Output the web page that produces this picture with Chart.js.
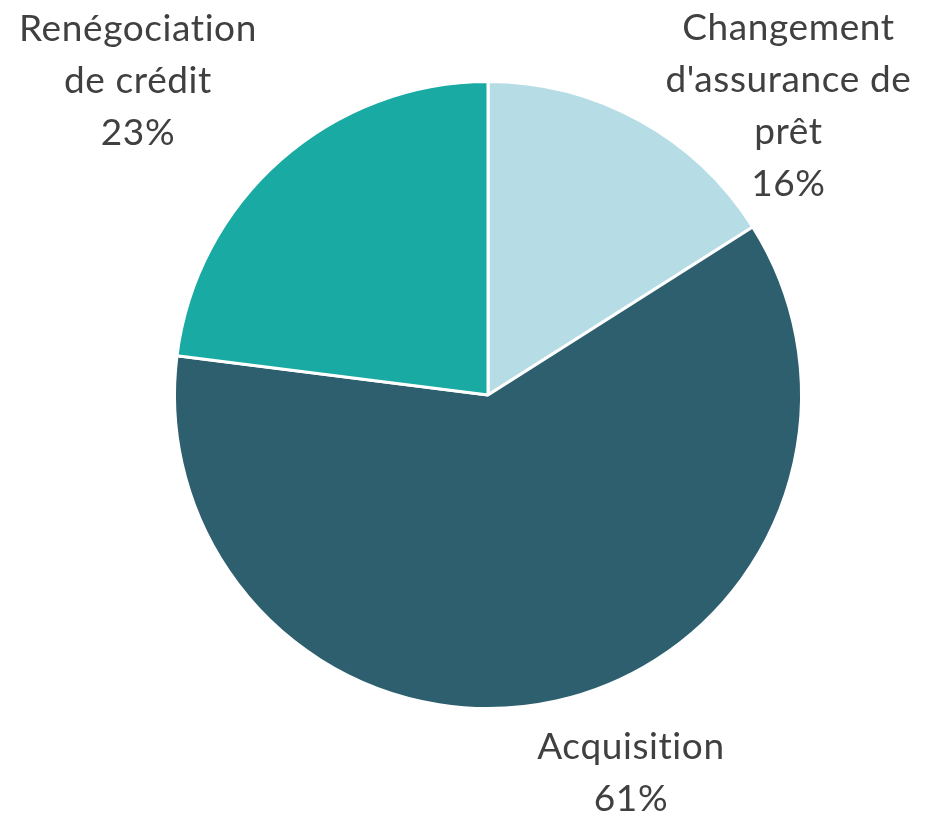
<!DOCTYPE html>
<html>
<head>
<meta charset="utf-8">
<script src="https://cdn.jsdelivr.net/npm/chart.js@4.4.0/dist/chart.umd.min.js"></script>
<style>
    html, body { margin: 0; padding: 0; background: #ffffff; }
    #wrap { width: 925px; height: 814px; position: relative; }
</style>
</head>
<body>
<div id="wrap"><canvas id="pie-chart"></canvas></div>
<script>
// Data
const categories = ['Changement d\'assurance de prêt', 'Acquisition', 'Renégociation de crédit'];
const labelLines = [
    ['Changement', 'd\'assurance de', 'prêt'],
    ['Acquisition'],
    ['Renégociation', 'de crédit']
];
const shares = [16, 61, 23];
const sliceColors = ['#b6dde6', '#2d5f6e', '#18aaa3'];

// Label placement: angle shift (deg) from slice middle, distance as factor of radius
const labelShift = [17.3, -8.1, -6.7];
const labelDist = [1.33, 1.29, 1.50];

const LINE_H = 52;
const FONT = '37px Lato, "Open Sans", sans-serif';

/**
 * Draws the outside category + percent labels
 */
const outsideLabels = {
    id: 'outsideLabels',
    afterDraw(chart) {
        const ctx = chart.ctx;
        const meta = chart.getDatasetMeta(0);
        ctx.save();
        ctx.font = FONT;
        ctx.letterSpacing = '0.6px'; // also stops the "ti" ligature
        ctx.fillStyle = '#404040';
        ctx.textAlign = 'center';
        ctx.textBaseline = 'middle';
        meta.data.forEach((arc, i) => {
            const mid = (arc.startAngle + arc.endAngle) / 2 + labelShift[i] * Math.PI / 180;
            const r = arc.outerRadius * labelDist[i];
            const cx = arc.x + Math.cos(mid) * r;
            const cy = arc.y + Math.sin(mid) * r;
            const lines = labelLines[i].concat([shares[i] + '%']);
            const top = cy - (lines.length - 1) * LINE_H / 2;
            lines.forEach((line, k) => {
                ctx.fillText(line, cx, top + k * LINE_H);
            });
        });
        ctx.restore();
    }
};

document.addEventListener('DOMContentLoaded', () => {
    const ctx = document.getElementById('pie-chart').getContext('2d');
    new Chart(ctx, {
        type: 'pie',
        data: {
            labels: categories,
            datasets: [{
                data: shares,
                backgroundColor: sliceColors,
                borderColor: '#ffffff',
                borderWidth: 3
            }]
        },
        options: {
            responsive: true,
            maintainAspectRatio: false,
            animation: false,
            layout: {
                padding: { top: 80, bottom: 104, left: 173, right: 122 }
            },
            plugins: {
                legend: { display: false },
                tooltip: { enabled: false }
            }
        },
        plugins: [outsideLabels]
    });
});
</script>
</body>
</html>
